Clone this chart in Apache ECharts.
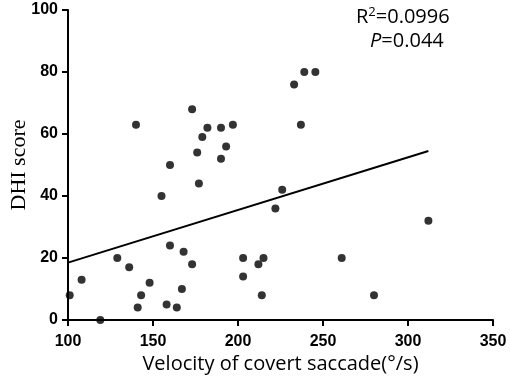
<!DOCTYPE html>
<html>
<head>
<meta charset="utf-8">
<script src="https://cdn.jsdelivr.net/npm/echarts@6/dist/echarts.min.js"></script>
<style>
  html, body { margin: 0; padding: 0; background: #fff; }
  #chart { width: 510px; height: 380px; }
</style>
</head>
<body>
<div id="chart"></div>
<script>
// velocity of covert saccade (deg/s) and DHI score
let velocity = [101, 108, 119, 129, 136, 140, 141, 143, 148, 155,
                158, 160, 160, 164, 167, 168, 173, 173, 176, 177,
                179, 182, 190, 190, 193, 197, 203, 203, 212, 214,
                215, 222, 226, 233, 237, 239, 245.5, 261, 280, 312]
let dhi = [8, 13, 0, 20, 17, 63, 4, 8, 12, 40,
           5, 50, 24, 4, 10, 22, 68, 18, 54, 44,
           59, 62, 62, 52, 56, 63, 20, 14, 18, 8,
           20, 36, 42, 76, 63, 80, 80, 20, 8, 32]
// fitted regression line ends
let fitX = [100, 312]
let fitY = [18.5, 54.5]
let xTicks = [100, 150, 200, 250, 300, 350]
let yTicks = [0, 20, 40, 60, 80, 100]

let chart = echarts.init(document.getElementById('chart'))
let tickFont = {
  color: '#000',
  fontFamily: 'Liberation Sans, Arial, sans-serif',
  fontWeight: 'bold',
  fontSize: 16
}
let option = {
  animation: false,
  grid: { left: 68, top: 10, right: 17, bottom: 60, outerBoundsMode: 'none', containLabel: false },
  xAxis: {
    type: 'value',
    min: xTicks[0],
    max: xTicks[xTicks.length - 1],
    interval: 50,
    name: 'Velocity of covert saccade(°/s)',
    nameLocation: 'middle',
    nameGap: 34,
    nameMoveOverlap: false,
    nameTextStyle: { color: '#000', fontFamily: 'Open Sans', fontSize: 20 },
    axisLine: { show: true, onZero: false, lineStyle: { color: '#000', width: 2 } },
    axisTick: { show: true, length: 6, lineStyle: { color: '#000', width: 2 } },
    axisLabel: Object.assign({ margin: 14 }, tickFont),
    splitLine: { show: false }
  },
  yAxis: {
    type: 'value',
    min: yTicks[0],
    max: yTicks[yTicks.length - 1],
    interval: 20,
    name: 'DHI score',
    nameLocation: 'middle',
    nameGap: 38,
    nameMoveOverlap: false,
    nameTextStyle: { color: '#000', fontFamily: 'Liberation Serif, Times New Roman, serif', fontSize: 22 },
    axisLine: { show: true, onZero: false, lineStyle: { color: '#000', width: 2 } },
    axisTick: { show: true, length: 6, lineStyle: { color: '#000', width: 2 } },
    axisLabel: Object.assign({ margin: 10 }, tickFont),
    splitLine: { show: false }
  },
  graphic: [
    {
      type: 'text',
      left: 356,
      top: 6,
      style: {
        text: '{a|R}{s|2}{a|=0.0996}',
        rich: {
          a: { fontFamily: 'Open Sans', fontSize: 20, fill: '#000' },
          s: { fontFamily: 'Open Sans', fontSize: 13, fill: '#000', padding: [0, 0, 10, 0] }
        }
      }
    },
    {
      type: 'text',
      left: 370,
      top: 31,
      style: {
        text: '{i|P}{a|=0.044}',
        rich: {
          a: { fontFamily: 'Open Sans', fontSize: 20, fill: '#000' },
          i: { fontFamily: 'Open Sans', fontSize: 20, fontStyle: 'italic', fill: '#000' }
        }
      }
    }
  ],
  series: [
    {
      type: 'scatter',
      symbolSize: 8,
      itemStyle: { color: '#000' },
      data: velocity.map((v, i) => [v, dhi[i]]),
      z: 3
    },
    {
      type: 'line',
      symbol: 'none',
      lineStyle: { color: '#000', width: 2 },
      data: fitX.map((v, i) => [v, fitY[i]]),
      z: 2
    }
  ]
}
chart.setOption(option)
</script>
</body>
</html>
